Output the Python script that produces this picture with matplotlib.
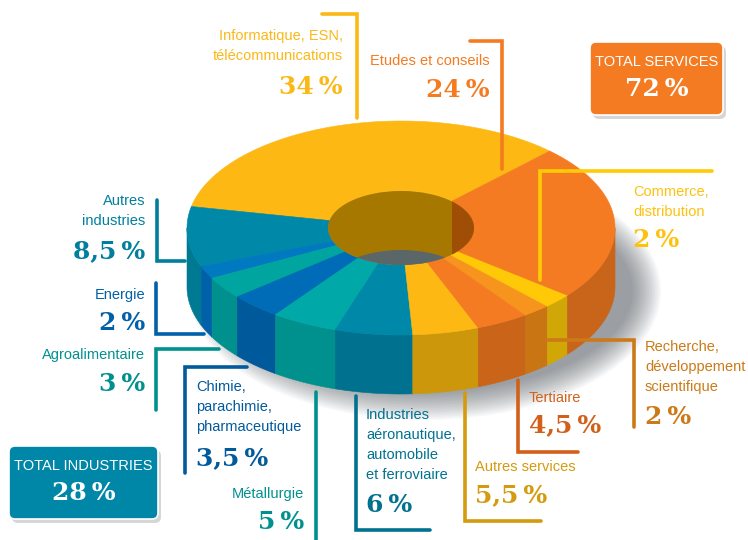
import numpy as np
import matplotlib
matplotlib.use("Agg")
import matplotlib.pyplot as plt
from matplotlib.patches import Ellipse, FancyBboxPatch

# slices, counter clockwise from the Informatique / Etudes boundary
slice_names = ["Informatique", "Autres industries", "Energie", "Agroalimentaire", "Chimie", "Metallurgie",
               "Aero", "Autres services", "Tertiaire", "Recherche", "Commerce", "Etudes"]
# shares as drawn in the picture (the printed labels are rounded differently)
slice_shares = [34, 9.05, 1.95, 3.35, 3.9, 5, 5.85, 5, 4.0, 2.1, 2.2, 23.6]
top_colors = ["#FDB813", "#0088A8", "#0079C1", "#00A5A0", "#006BB6", "#00A9A8",
              "#0088A8", "#FDB813", "#F57B22", "#F7941D", "#FFC907", "#F57B22"]
side_colors = ["#CD970C", "#007A93", "#0060A8", "#00918F", "#00599B", "#00918F",
               "#00728F", "#CD970C", "#C96419", "#C97514", "#D0A706", "#C9651A"]

start_angle = 46
cx, cy = 401, 228
rx, ry = 214, 107
hole_rx, hole_ry = 73, 37
depth = 59

# text, x, y, align, colour
label_texts = [
    ("Informatique, ESN,\ntélécommunications", 343, 46, "right", "#FBB817"),
    ("Etudes et conseils", 490, 61, "right", "#F47B20"),
    ("Commerce,\ndistribution", 633, 202, "left", "#FDC20F"),
    ("Recherche,\ndéveloppement\nscientifique", 645, 367, "left", "#CC7A17"),
    ("Tertiaire", 529, 398, "left", "#D2601A"),
    ("Autres services", 475, 467, "left", "#D39B0D"),
    ("Industries\naéronautique,\nautomobile\net ferroviaire", 366, 445, "left", "#00728F"),
    ("Chimie,\nparachimie,\npharmaceutique", 196, 407, "left", "#005A9C"),
    ("Métallurgie", 304, 494, "right", "#00918F"),
    ("Agroalimentaire", 145, 355, "right", "#00918F"),
    ("Energie", 145, 295, "right", "#0061A8"),
    ("Autres\nindustries", 145, 211, "right", "#007F9C"),
]
pct_texts = [
    ("34\u2009%", 343, 87, "right", "#FBB817"),
    ("24\u2009%", 490, 90, "right", "#F47B20"),
    ("2\u2009%", 633, 240, "left", "#FDC20F"),
    ("2\u2009%", 645, 417, "left", "#CC7A17"),
    ("4,5\u2009%", 529, 425, "left", "#D2601A"),
    ("5,5\u2009%", 475, 495, "left", "#D39B0D"),
    ("6\u2009%", 366, 505, "left", "#00728F"),
    ("3,5\u2009%", 196, 458, "left", "#005A9C"),
    ("5\u2009%", 304, 522, "right", "#00918F"),
    ("3\u2009%", 145, 384, "right", "#00918F"),
    ("2\u2009%", 145, 323, "right", "#0061A8"),
    ("8,5\u2009%", 145, 251, "right", "#007F9C"),
]
leader_lines = [
    ([322, 357, 357], [14, 14, 118], "#FBB817"),
    ([470, 502, 502], [41, 41, 169], "#F47B20"),
    ([712, 540, 540], [171, 171, 280], "#FFCB05"),
    ([548, 634, 634], [340, 340, 427], "#CC7A17"),
    ([518, 518, 578], [380, 452, 452], "#D2601A"),
    ([465, 465, 541], [393, 521, 521], "#D39B0D"),
    ([356, 356, 430], [396, 530, 530], "#00728F"),
    ([316, 316], [392, 542], "#00918F"),
    ([247, 185, 185], [367, 367, 473], "#005A9C"),
    ([219, 156, 156], [349, 349, 410], "#00918F"),
    ([204, 156, 156], [334, 334, 283], "#0061A8"),
    ([157, 157, 185], [200, 261, 261], "#007F9C"),
]
total_boxes = [
    ("TOTAL SERVICES", "72\u2009%", 590, 42, 133, 73, "#F57B22"),
    ("TOTAL INDUSTRIES", "28\u2009%", 9, 446, 149, 73, "#0087A8"),
]

label_font = "Liberation Sans"
number_font = "DejaVu Serif"


def ring_points(t0, t1, y_shift=0):
    t = np.radians(np.linspace(t0, t1, 80))
    outer = np.column_stack([cx + rx * np.cos(t), cy - ry * np.sin(t) + y_shift])
    inner = np.column_stack([cx + hole_rx * np.cos(t), cy - hole_ry * np.sin(t) + y_shift])
    return outer, inner


fig = plt.figure(figsize=(7.48, 5.4), dpi=100)
ax = fig.add_axes([0, 0, 1, 1])
ax.set_xlim(0, 748)
ax.set_ylim(540, 0)
ax.axis("off")

# soft shadow below the pie, leaning to the right
for k in range(20):
    grow = 44 - k * 3.0
    ax.add_patch(Ellipse((cx + 24, cy + depth + 4), 2 * rx + grow, 2 * ry + grow, color="#4A5257",
                         alpha=0.035, lw=0, zorder=1))

# slice boundaries
edges = start_angle + np.concatenate([[0], np.cumsum(slice_shares)]) * 360 / np.sum(slice_shares)

# outer wall, only the front half can be seen
for i in range(len(slice_shares)):
    for lo, hi in [(180, 360), (540, 720)]:
        t0, t1 = max(edges[i], lo), min(edges[i + 1], hi)
        if t1 <= t0:
            continue
        top, _ = ring_points(t0, t1)
        bottom, _ = ring_points(t0, t1, depth)
        ax.fill(np.r_[top[:, 0], bottom[::-1, 0]], np.r_[top[:, 1], bottom[::-1, 1]],
                color=side_colors[i], lw=0.4, zorder=2)

# top faces
for i in range(len(slice_shares)):
    outer, inner = ring_points(edges[i], edges[i + 1])
    ax.fill(np.r_[outer[:, 0], inner[::-1, 0]], np.r_[outer[:, 1], inner[::-1, 1]],
            color=top_colors[i], lw=0.4, zorder=3)

# the hole: inner wall, then the floor seen through it
hole = Ellipse((cx, cy), 2 * hole_rx, 2 * hole_ry, color="#A67800", lw=0, zorder=4)
ax.add_patch(hole)
wall_split = cx + hole_rx * np.cos(np.radians(start_angle))
right_wall = ax.fill_between([wall_split, cx + hole_rx], cy - hole_ry, cy + hole_ry, color="#A04E05", lw=0, zorder=5)
right_wall.set_clip_path(hole)
floor = Ellipse((cx, cy + depth), 2 * hole_rx, 2 * hole_ry, color="#5B6669", lw=0, zorder=6)
ax.add_patch(floor)
floor.set_clip_path(hole)

for xs, ys, col in leader_lines:
    ax.plot(xs, ys, color=col, lw=2.6, solid_capstyle="round", solid_joinstyle="miter", zorder=7)

for txt, x, y, ha, col in label_texts:
    ax.text(x, y, txt, ha=ha, va="center", color=col, fontsize=10.5, family=label_font,
            linespacing=1.55, zorder=8)
for txt, x, y, ha, col in pct_texts:
    ax.text(x, y, txt, ha=ha, va="center", color=col, fontsize=18, family=number_font,
            fontweight="bold", zorder=8)

for title, pct, x, y, w, h, col in total_boxes:
    ax.add_patch(FancyBboxPatch((x + 3, y + 4), w, h, boxstyle="round,pad=0,rounding_size=6",
                                fc="#9A9A9A", ec="none", alpha=0.4, zorder=7))
    ax.add_patch(FancyBboxPatch((x, y), w, h, boxstyle="round,pad=0,rounding_size=6",
                                fc=col, ec="white", lw=1.2, zorder=8))
    ax.text(x + w / 2, y + 20, title, ha="center", va="center", color="white", fontsize=10.5,
            family=label_font, zorder=9)
    ax.text(x + w / 2, y + 47, pct, ha="center", va="center", color="white", fontsize=18,
            family=number_font, fontweight="bold", zorder=9)

fig.savefig("out.png", dpi=100)
